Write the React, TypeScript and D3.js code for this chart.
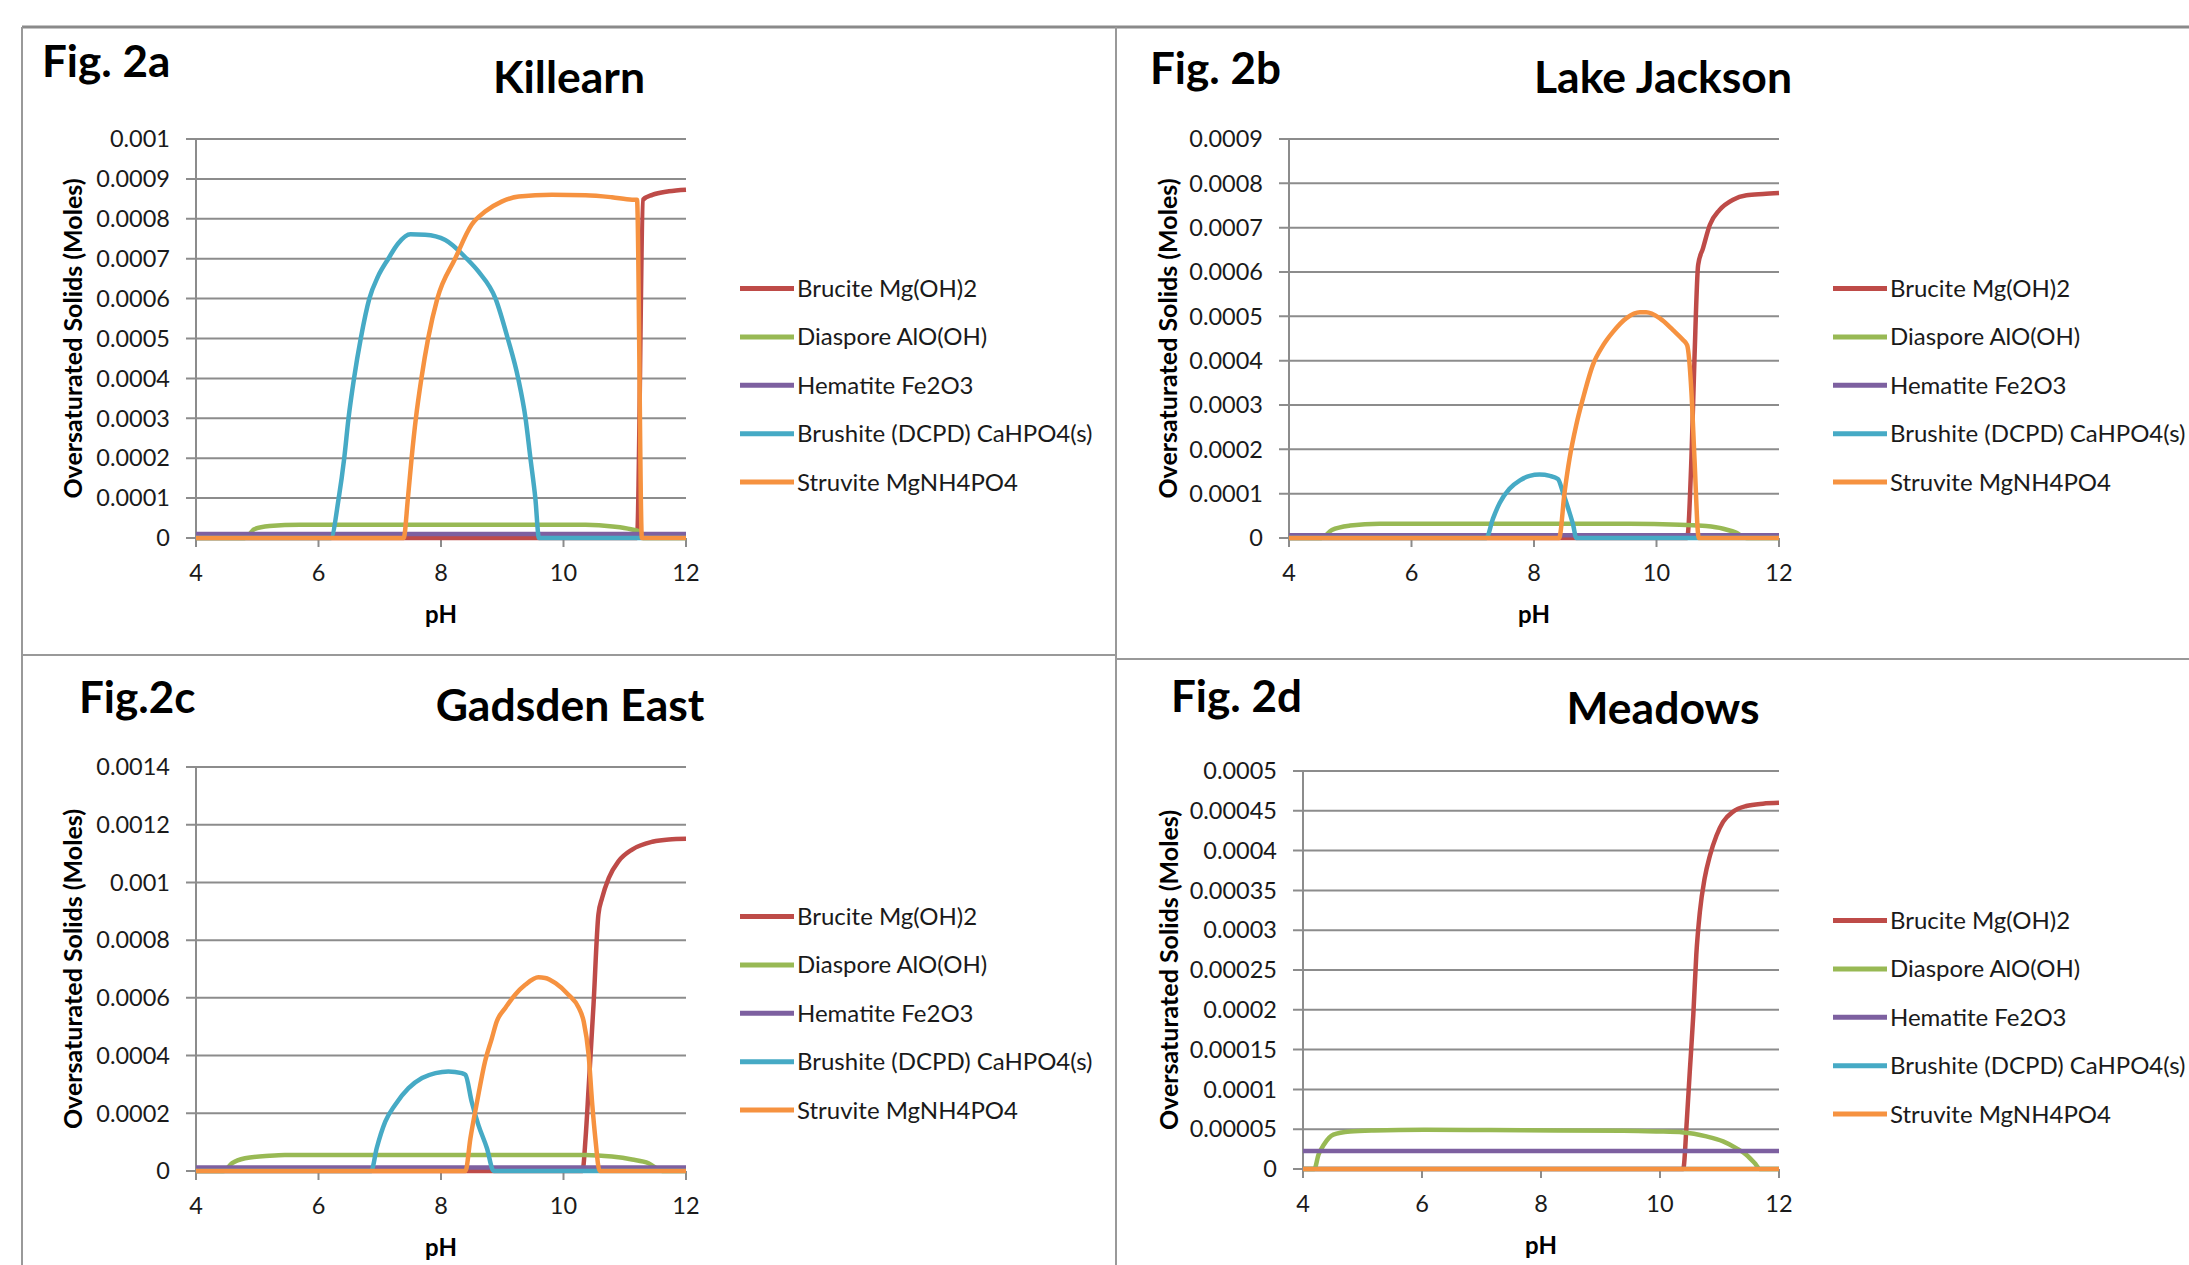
import React from "react";
import * as d3 from "d3";

type Pt = [number, number];

const seriesNames = [
  "Brucite Mg(OH)2",
  "Diaspore AlO(OH)",
  "Hematite Fe2O3",
  "Brushite (DCPD) CaHPO4(s)",
  "Struvite MgNH4PO4",
];
const seriesColors = ["#BE4B48", "#98B954", "#7D60A0", "#46AAC5", "#F69240"];
const phTicks = [4, 6, 8, 10, 12];

// Fig. 2a Killearn
const killearnTicks = [0, 0.0001, 0.0002, 0.0003, 0.0004, 0.0005, 0.0006, 0.0007, 0.0008, 0.0009, 0.001];
const killearnBrucite: Pt[] = [[4, 0], [11.2, 0], [11.3, 0.000848], [11.45, 0.00086], [11.72, 0.000869], [12, 0.000873]];
const killearnDiaspore: Pt[] = [[4, 0], [4.8, 0], [4.95, 0.000022], [5.2, 0.00003], [5.7, 0.0000335], [7, 0.0000335], [9, 0.0000335], [10.36, 0.000033], [10.8, 0.000029], [11.1, 0.000022], [11.25, 0.000015], [11.3, 0], [12, 0]];
const killearnHematite: Pt[] = [[4, 0.00001], [12, 0.00001]];
const killearnBrushite: Pt[] = [[4, 0], [6.2, 0], [6.33, 0.0001], [6.42, 0.0002], [6.49, 0.0003], [6.58, 0.0004], [6.69, 0.0005], [6.83, 0.0006], [6.97, 0.000655], [7.14, 0.0007], [7.3, 0.000738], [7.5, 0.000761], [7.74, 0.00076], [8.07, 0.000747], [8.42, 0.0007], [8.61, 0.000668], [8.89, 0.0006], [9.09, 0.0005], [9.26, 0.0004], [9.38, 0.0003], [9.46, 0.0002], [9.54, 0.0001], [9.6, 0], [12, 0]];
const killearnStruvite: Pt[] = [[4, 0], [7.39, 0], [7.46, 0.0001], [7.52, 0.0002], [7.59, 0.0003], [7.68, 0.0004], [7.79, 0.0005], [7.94, 0.0006], [8.23, 0.0007], [8.5, 0.000785], [8.72, 0.000818], [8.99, 0.000843], [9.27, 0.000856], [9.81, 0.00086], [10.36, 0.000859], [10.79, 0.000854], [11.12, 0.000848], [11.2, 0.000848], [11.28, 0], [12, 0]];

// Fig. 2b Lake Jackson
const jacksonTicks = [0, 0.0001, 0.0002, 0.0003, 0.0004, 0.0005, 0.0006, 0.0007, 0.0008, 0.0009];
const jacksonBrucite: Pt[] = [[4, 0], [10.5, 0], [10.57, 0.000179], [10.62, 0.000405], [10.68, 0.000616], [10.76, 0.000654], [10.87, 0.000706], [11.03, 0.00074], [11.25, 0.000763], [11.47, 0.000773], [11.74, 0.000776], [12, 0.000778]];
const jacksonDiaspore: Pt[] = [[4, 0], [4.53, 0], [4.7, 0.000018], [5.0, 0.000028], [5.48, 0.0000324], [7, 0.0000324], [9.56, 0.0000324], [10.38, 0.00003], [10.81, 0.000027], [11.09, 0.000021], [11.3, 0.000012], [11.47, 0], [12, 0]];
const jacksonHematite: Pt[] = [[4, 0.000006], [12, 0.000006]];
const jacksonBrushite: Pt[] = [[4, 0], [7.22, 0], [7.33, 0.0000437], [7.44, 0.000079], [7.6, 0.000111], [7.77, 0.00013], [7.93, 0.00014], [8.09, 0.000143], [8.26, 0.00014], [8.39, 0.000133], [8.47, 0.000104], [8.56, 0.000066], [8.64, 0.000029], [8.69, 0], [12, 0]];
const jacksonStruvite: Pt[] = [[4, 0], [8.41, 0], [8.5, 0.000104], [8.58, 0.000179], [8.69, 0.000255], [8.8, 0.000315], [8.96, 0.00039], [9.13, 0.000435], [9.29, 0.000465], [9.51, 0.000496], [9.73, 0.000509], [9.83, 0.000509], [10.05, 0.000496], [10.27, 0.000469], [10.43, 0.000447], [10.5, 0.000435], [10.57, 0.00033], [10.62, 0.000179], [10.69, 0], [12, 0]];

// Fig. 2c Gadsden East
const gadsdenTicks = [0, 0.0002, 0.0004, 0.0006, 0.0008, 0.001, 0.0012, 0.0014];
const gadsdenBrucite: Pt[] = [[4, 0], [10.31, 0], [10.36, 0.000113], [10.41, 0.000287], [10.49, 0.000576], [10.57, 0.000889], [10.63, 0.000946], [10.74, 0.001016], [10.9, 0.001074], [11.12, 0.001114], [11.45, 0.001141], [11.72, 0.001149], [12, 0.001151]];
const gadsdenDiaspore: Pt[] = [[4, 0], [4.45, 0], [4.59, 0.000027], [4.8, 0.000044], [5.2, 0.000053], [5.45, 0.0000555], [8, 0.0000555], [10.36, 0.0000555], [10.79, 0.00005], [11.12, 0.00004], [11.39, 0.000027], [11.61, 0], [12, 0]];
const gadsdenHematite: Pt[] = [[4, 0.000012], [12, 0.000012]];
const gadsdenBrushite: Pt[] = [[4, 0], [6.86, 0], [6.95, 0.0000787], [7.09, 0.000171], [7.25, 0.000229], [7.47, 0.000287], [7.69, 0.000322], [7.91, 0.000339], [8.12, 0.000345], [8.34, 0.000339], [8.4, 0.000333], [8.5, 0.000241], [8.61, 0.00016], [8.75, 0.000079], [8.86, 0], [12, 0]];
const gadsdenStruvite: Pt[] = [[4, 0], [8.4, 0], [8.48, 0.000113], [8.59, 0.000241], [8.72, 0.00038], [8.83, 0.00046], [8.91, 0.000518], [9.05, 0.000565], [9.21, 0.000611], [9.38, 0.000646], [9.59, 0.000671], [9.7, 0.000669], [9.87, 0.000651], [10.08, 0.000611], [10.25, 0.000565], [10.33, 0.000518], [10.41, 0.000403], [10.47, 0.000229], [10.52, 0.000113], [10.59, 0], [12, 0]];

// Fig. 2d Meadows
const meadowsTicks = [0, 0.00005, 0.0001, 0.00015, 0.0002, 0.00025, 0.0003, 0.00035, 0.0004, 0.00045, 0.0005];
const meadowsBrucite: Pt[] = [[4, 0], [10.39, 0], [10.45, 0.0000598], [10.5, 0.000122], [10.56, 0.000194], [10.61, 0.000269], [10.67, 0.000323], [10.75, 0.000365], [10.84, 0.000394], [10.95, 0.000419], [11.06, 0.000436], [11.23, 0.000449], [11.45, 0.000456], [11.73, 0.000459], [12, 0.00046]];
const meadowsDiaspore: Pt[] = [[4, 0], [4.19, 0], [4.26, 0.000018], [4.35, 0.0000305], [4.51, 0.0000431], [4.79, 0.0000472], [5.19, 0.0000485], [6.03, 0.0000493], [7.14, 0.0000489], [8.26, 0.0000485], [9.38, 0.0000481], [9.94, 0.0000472], [10.39, 0.000046], [10.78, 0.000041], [11.06, 0.0000347], [11.28, 0.0000263], [11.45, 0.000018], [11.59, 0.0000075], [11.68, 0], [12, 0]];
const meadowsHematite: Pt[] = [[4, 0.0000226], [12, 0.0000226]];
const meadowsBrushite: Pt[] = [[4, 0], [12, 0]];
const meadowsStruvite: Pt[] = [[4, 0], [12, 0]];

const FONT = "Lato, 'Open Sans', sans-serif";
const GRID = "#8c8c8c";

const panels = [
  { fig: "Fig. 2a", figX: 42, figY: 77, title: "Killearn", titleX: 569, titleY: 93, left: 196, right: 686, top: 139, bottom: 538, ticks: killearnTicks, ylabOff: 123, series: [killearnBrucite, killearnDiaspore, killearnHematite, killearnBrushite, killearnStruvite] },
  { fig: "Fig. 2b", figX: 1150, figY: 84, title: "Lake Jackson", titleX: 1663, titleY: 93, left: 1289, right: 1779, top: 139, bottom: 538, ticks: jacksonTicks, ylabOff: 121, series: [jacksonBrucite, jacksonDiaspore, jacksonHematite, jacksonBrushite, jacksonStruvite] },
  { fig: "Fig.2c", figX: 79, figY: 713, title: "Gadsden East", titleX: 570, titleY: 721, left: 196, right: 686, top: 767, bottom: 1171, ticks: gadsdenTicks, ylabOff: 123, series: [gadsdenBrucite, gadsdenDiaspore, gadsdenHematite, gadsdenBrushite, gadsdenStruvite] },
  { fig: "Fig. 2d", figX: 1171, figY: 712, title: "Meadows", titleX: 1663, titleY: 724, left: 1303, right: 1779, top: 771, bottom: 1169, ticks: meadowsTicks, ylabOff: 134, series: [meadowsBrucite, meadowsDiaspore, meadowsHematite, meadowsBrushite, meadowsStruvite] },
];

function Panel({ p }: { p: (typeof panels)[number] }) {
  const x = d3.scaleLinear().domain([4, 12]).range([p.left, p.right]);
  const y = d3.scaleLinear().domain([0, d3.max(p.ticks) as number]).range([p.bottom, p.top]);
  const line = d3.line<Pt>().x((d) => x(d[0])).y((d) => y(d[1])).curve(d3.curveMonotoneX);
  const midY = (p.top + p.bottom) / 2;
  return (
    <g fontFamily={FONT}>
      <text x={p.figX} y={p.figY} fontSize={44} fontWeight="bold">{p.fig}</text>
      <text x={p.titleX} y={p.titleY} fontSize={44.5} fontWeight="bold" textAnchor="middle">{p.title}</text>
      {p.ticks.map((t) => (
        <g key={t}>
          <line x1={p.left - 10} x2={p.right} y1={y(t)} y2={y(t)} stroke={GRID} strokeWidth={2} />
          <text x={p.left - 26} y={y(t)} dy="0.35em" fontSize={23.5} textAnchor="end" fill="#1a1a1a">{String(t)}</text>
        </g>
      ))}
      <line x1={p.left} x2={p.left} y1={p.top} y2={p.bottom} stroke={GRID} strokeWidth={2} />
      {phTicks.map((t) => (
        <g key={t}>
          <line x1={x(t)} x2={x(t)} y1={p.bottom} y2={p.bottom + 9} stroke={GRID} strokeWidth={2} />
          <text x={x(t)} y={p.bottom + 35} dy="0.35em" fontSize={23.5} textAnchor="middle" fill="#1a1a1a">{t}</text>
        </g>
      ))}
      <text x={(p.left + p.right) / 2} y={p.bottom + 77} dy="0.35em" fontSize={24} fontWeight="bold" textAnchor="middle">pH</text>
      <text transform={`translate(${p.left - p.ylabOff},${midY}) rotate(-90)`} dy="0.35em" fontSize={25} fontWeight="bold" textAnchor="middle">
        Oversaturated Solids (Moles)
      </text>
      {p.series.map((s, i) => (
        <path key={i} d={line(s) || ""} fill="none" stroke={seriesColors[i]} strokeWidth={4.5} strokeLinejoin="round" />
      ))}
      {seriesNames.map((n, i) => {
        const ly = p.top + 149.5 + i * 48.4;
        return (
          <g key={n}>
            <line x1={p.right + 54} x2={p.right + 108} y1={ly} y2={ly} stroke={seriesColors[i]} strokeWidth={5} />
            <text x={p.right + 111} y={ly} dy="0.35em" fontSize={24} fill="#1a1a1a">{n}</text>
          </g>
        );
      })}
    </g>
  );
}

export default function App() {
  return (
    <svg width={2189} height={1265} style={{ position: "absolute", left: 0, top: 0, background: "#fff" }}>
      <rect x={0} y={0} width={2189} height={1265} fill="#fff" />
      <line x1={22} x2={2189} y1={27} y2={27} stroke="#8a8a8a" strokeWidth={3} />
      <line x1={22} x2={22} y1={27} y2={1265} stroke="#999" strokeWidth={2} />
      <line x1={1116} x2={1116} y1={27} y2={1265} stroke="#999" strokeWidth={2} />
      <line x1={22} x2={1116} y1={655} y2={655} stroke="#999" strokeWidth={2} />
      <line x1={1116} x2={2189} y1={659} y2={659} stroke="#999" strokeWidth={2} />
      {panels.map((p) => (
        <Panel key={p.fig} p={p} />
      ))}
    </svg>
  );
}
